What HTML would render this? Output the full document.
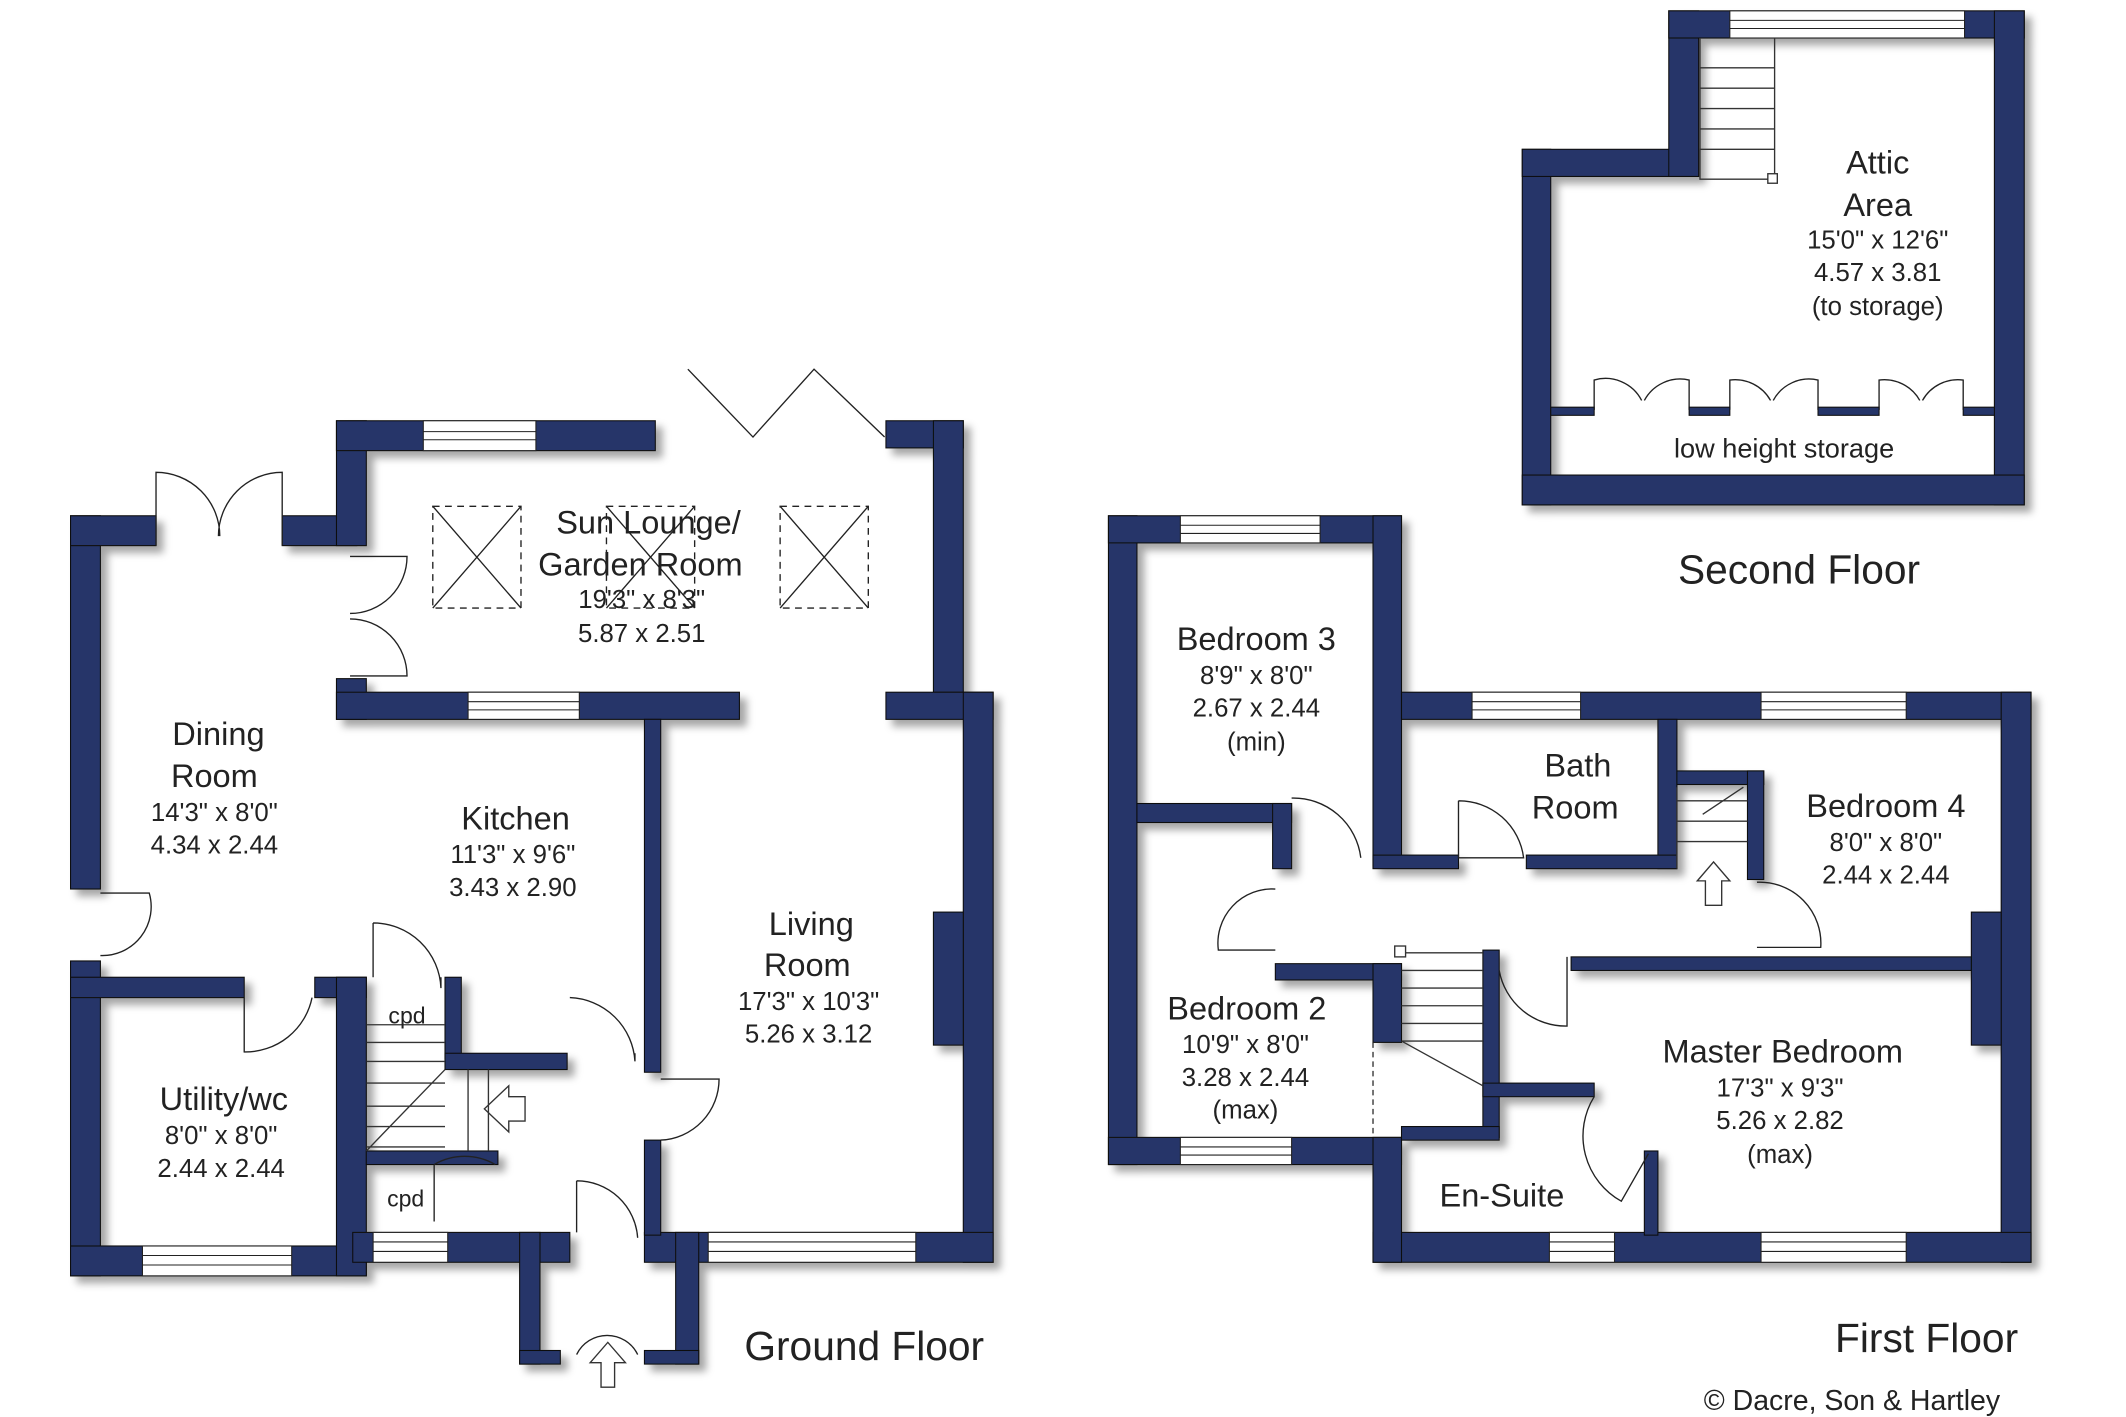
<!DOCTYPE html>
<html><head><meta charset="utf-8"><style>
html,body{margin:0;padding:0;background:#fff;}
svg{display:block;}
text{font-family:"Liberation Sans",sans-serif;fill:#222;}
.w{fill:#253569;stroke:#111;stroke-width:0.8;}
.win{fill:#fff;stroke:#222;stroke-width:0.8;}
.d{fill:none;stroke:#222;stroke-width:1;}
.rn{font-size:24px;text-anchor:middle;}
.dm{font-size:19px;text-anchor:middle;}
.ft{font-size:30px;text-anchor:middle;}
</style></head><body>
<svg width="2126" height="1417" viewBox="0 0 1567 1044" preserveAspectRatio="none">
<defs><filter id="sh" x="-5%" y="-5%" width="115%" height="115%"><feDropShadow dx="5" dy="5" stdDeviation="3" flood-color="#000" flood-opacity="0.35"/></filter></defs>
<g filter="url(#sh)">
<rect class="w" x="52" y="380" width="22" height="275"/>
<rect class="w" x="52" y="380" width="63" height="22"/>
<rect class="w" x="208" y="380" width="55" height="22"/>
<rect class="w" x="248" y="310" width="22" height="92"/>
<rect class="w" x="248" y="310" width="235" height="22"/>
<rect class="w" x="653" y="310" width="57" height="20"/>
<rect class="w" x="688" y="310" width="22" height="200"/>
<rect class="w" x="248" y="500" width="22" height="30"/>
<rect class="w" x="248" y="510" width="297" height="20"/>
<rect class="w" x="475" y="530" width="12" height="260"/>
<rect class="w" x="653" y="510" width="79" height="20"/>
<rect class="w" x="710" y="510" width="22" height="420"/>
<rect class="w" x="688" y="672" width="22" height="98"/>
<rect class="w" x="475" y="908" width="257" height="22"/>
<rect class="w" x="475" y="840" width="12" height="70"/>
<rect class="w" x="52" y="708" width="22" height="232"/>
<rect class="w" x="52" y="918" width="218" height="22"/>
<rect class="w" x="52" y="720" width="128" height="15"/>
<rect class="w" x="232" y="720" width="38" height="15"/>
<rect class="w" x="248" y="720" width="22" height="220"/>
<rect class="w" x="260" y="908" width="160" height="22"/>
<rect class="w" x="383" y="908" width="15" height="97"/>
<rect class="w" x="498" y="908" width="17" height="97"/>
<rect class="w" x="383" y="995" width="30" height="10"/>
<rect class="w" x="475" y="995" width="40" height="10"/>
<rect class="w" x="328" y="720" width="12" height="60"/>
<rect class="w" x="328" y="776" width="90" height="12"/>
<rect class="w" x="270" y="848" width="97" height="10"/>
<rect class="w" x="817" y="380" width="21" height="478"/>
<rect class="w" x="817" y="380" width="216" height="20"/>
<rect class="w" x="1012" y="380" width="21" height="258"/>
<rect class="w" x="1033" y="510" width="464" height="20"/>
<rect class="w" x="1475" y="510" width="22" height="420"/>
<rect class="w" x="1453" y="672" width="22" height="98"/>
<rect class="w" x="1012" y="908" width="485" height="22"/>
<rect class="w" x="817" y="838" width="216" height="20"/>
<rect class="w" x="1012" y="838" width="21" height="92"/>
<rect class="w" x="838" y="592" width="114" height="14"/>
<rect class="w" x="938" y="592" width="14" height="48"/>
<rect class="w" x="1222" y="530" width="14" height="110"/>
<rect class="w" x="1012" y="630" width="63" height="10"/>
<rect class="w" x="1125" y="630" width="111" height="10"/>
<rect class="w" x="1236" y="568" width="64" height="10"/>
<rect class="w" x="1288" y="568" width="12" height="80"/>
<rect class="w" x="1158" y="705" width="295" height="10"/>
<rect class="w" x="940" y="710" width="93" height="12"/>
<rect class="w" x="1012" y="710" width="21" height="58"/>
<rect class="w" x="1093" y="700" width="12" height="138"/>
<rect class="w" x="1033" y="830" width="72" height="10"/>
<rect class="w" x="1093" y="798" width="82" height="10"/>
<rect class="w" x="1212" y="848" width="10" height="62"/>
<rect class="w" x="1122" y="110" width="21" height="262"/>
<rect class="w" x="1122" y="110" width="130" height="20"/>
<rect class="w" x="1230" y="8" width="22" height="122"/>
<rect class="w" x="1230" y="8" width="262" height="20"/>
<rect class="w" x="1470" y="8" width="22" height="364"/>
<rect class="w" x="1122" y="350" width="370" height="22"/>
</g>
<g class="win">
<rect x="312" y="310" width="83" height="22"/><line x1="312" y1="318" x2="395" y2="318"/><line x1="312" y1="324" x2="395" y2="324"/>
<rect x="345" y="510" width="82" height="20"/><line x1="345" y1="517" x2="427" y2="517"/><line x1="345" y1="523" x2="427" y2="523"/>
<rect x="522" y="908" width="153" height="22"/><line x1="522" y1="915" x2="675" y2="915"/><line x1="522" y1="922" x2="675" y2="922"/>
<rect x="105" y="918" width="110" height="22"/><line x1="105" y1="925" x2="215" y2="925"/><line x1="105" y1="932" x2="215" y2="932"/>
<rect x="275" y="908" width="55" height="22"/><line x1="275" y1="915" x2="330" y2="915"/><line x1="275" y1="922" x2="330" y2="922"/>
<rect x="870" y="380" width="103" height="20"/><line x1="870" y1="387" x2="973" y2="387"/><line x1="870" y1="393" x2="973" y2="393"/>
<rect x="1085" y="510" width="80" height="20"/><line x1="1085" y1="517" x2="1165" y2="517"/><line x1="1085" y1="523" x2="1165" y2="523"/>
<rect x="1298" y="510" width="107" height="20"/><line x1="1298" y1="517" x2="1405" y2="517"/><line x1="1298" y1="523" x2="1405" y2="523"/>
<rect x="870" y="838" width="82" height="20"/><line x1="870" y1="845" x2="952" y2="845"/><line x1="870" y1="851" x2="952" y2="851"/>
<rect x="1142" y="908" width="48" height="22"/><line x1="1142" y1="915" x2="1190" y2="915"/><line x1="1142" y1="922" x2="1190" y2="922"/>
<rect x="1298" y="908" width="107" height="22"/><line x1="1298" y1="915" x2="1405" y2="915"/><line x1="1298" y1="922" x2="1405" y2="922"/>
<rect x="1275" y="8" width="173" height="20"/><line x1="1275" y1="15" x2="1448" y2="15"/><line x1="1275" y1="21" x2="1448" y2="21"/>
</g>
<g class="d">
<path d="M115 402 L115 348 A47 47 0 0 1 162 395 M208 402 L208 348 A47 47 0 0 0 161 395"/>
<path d="M258 410 L300 410 A42 42 0 0 1 258 452 M258 498 L300 498 A42 42 0 0 0 258 456"/>
<path d="M507 272 L555 322 L600 272 L652 322"/>
<path d="M74 658 L110 658 A36 36 0 0 1 74 704"/>
<path d="M180 735 L180 775 A50 50 0 0 0 230 735"/>
<path d="M275 680 A50 50 0 0 1 325 728 L325 720 M275 680 L275 720"/>
<path d="M420 735 A50 50 0 0 1 468 782 L468 776"/>
<path d="M487 795 L530 795 A45 45 0 0 1 487 840"/>
<path d="M320 858 A45 45 0 0 1 365 858 M320 858 L320 900"/>
<path d="M425 870 A45 45 0 0 1 470 912 M425 870 L425 908"/>
<path d="M425 998 A25 25 0 0 1 470 998"/>
<path d="M952 588 A50 50 0 0 1 1003 632"/>
<path d="M940 655 A40 40 0 0 0 898 700 L940 700"/>
<path d="M1075 590 A48 48 0 0 1 1123 632 L1075 632 L1075 590"/>
<path d="M1295 650 A45 45 0 0 1 1342 698 L1295 698"/>
<path d="M1105 715 A50 50 0 0 0 1155 756 L1155 705"/>
<path d="M1175 808 A55 55 0 0 0 1195 885 L1215 850"/>
<path d="M1175 302 L1175 280 A30 30 0 0 1 1210 295 M1245 302 L1245 280 A30 30 0 0 0 1212 295 M1275 302 L1275 280 A30 30 0 0 1 1305 295 M1340 302 L1340 280 A30 30 0 0 0 1307 295 M1385 302 L1385 280 A30 30 0 0 1 1415 295 M1447 302 L1447 280 A30 30 0 0 0 1417 295"/>
</g>
<g class="w"><rect x="1143" y="300" width="32" height="6"/><rect x="1245" y="300" width="30" height="6"/><rect x="1340" y="300" width="45" height="6"/><rect x="1447" y="300" width="23" height="6"/></g>
<g fill="none" stroke="#222" stroke-width="1">
<rect x="319" y="373" width="65" height="75" stroke-dasharray="5,4"/><path d="M319 373 L384 448 M384 373 L319 448"/>
<rect x="447" y="373" width="65" height="75" stroke-dasharray="5,4"/><path d="M447 373 L512 448 M512 373 L447 448"/>
<rect x="575" y="373" width="65" height="75" stroke-dasharray="5,4"/><path d="M575 373 L640 448 M640 373 L575 448"/>
</g>
<g fill="none" stroke="#333" stroke-width="1">
<path d="M270 755 H328 M270 768 H328 M270 782 H328 M270 798 H328 M270 815 H328 M270 830 H328 M270 845 H328 M328 788 L270 848 M345 788 V848 M360 788 V848"/>
<path d="M1253 28 V132 H1308 V28 M1253 50 H1308 M1253 65 H1308 M1253 80 H1308 M1253 95 H1308 M1253 110 H1308"/>
<path d="M1236 580 V640 M1236 590 H1288 M1236 605 H1288 M1236 620 H1288 M1255 600 L1285 580"/>
<path d="M1033 702 H1093 M1033 715 H1093 M1033 728 H1093 M1033 741 H1093 M1033 754 H1093 M1033 767 H1093 M1033 767 L1093 800"/>
<path d="M1012 768 V838" stroke-dasharray="4,3"/>
<path d="M375 808 h12 v18 h-12 v8 l-18 -17 l18 -17 z"/>
<path d="M443 1022 v-18 h-8 l13 -15 l13 15 h-8 v18 z"/>
<path d="M1257 667 v-18 h-6 l12 -14 l12 14 h-6 v18 z"/>
<rect x="1303" y="128" width="7" height="7" fill="#fff"/><rect x="1028" y="697" width="8" height="8" fill="#fff"/>
</g>
<text class="rn" x="478" y="393">Sun Lounge/</text><text class="rn" x="472" y="424">Garden Room</text>
<text class="dm" x="473" y="448">19'3"  x  8'3"</text><text class="dm" x="473" y="473">5.87  x  2.51</text>
<text class="rn" x="161" y="549">Dining</text><text class="rn" x="158" y="580">Room</text>
<text class="dm" x="158" y="605">14'3"  x  8'0"</text><text class="dm" x="158" y="629">4.34  x  2.44</text>
<text class="rn" x="380" y="611">Kitchen</text>
<text class="dm" x="378" y="636">11'3"  x  9'6"</text><text class="dm" x="378" y="660">3.43  x  2.90</text>
<text class="rn" x="598" y="689">Living</text><text class="rn" x="595" y="719">Room</text>
<text class="dm" x="596" y="744">17'3"  x  10'3"</text><text class="dm" x="596" y="768">5.26  x  3.12</text>
<text class="rn" x="165" y="818">Utility/wc</text>
<text class="dm" x="163" y="843">8'0"  x  8'0"</text><text class="dm" x="163" y="867">2.44  x  2.44</text>
<text class="dm" x="300" y="754" style="font-size:17px">cpd</text><text class="dm" x="299" y="889" style="font-size:17px">cpd</text>
<text class="ft" x="637" y="1002">Ground Floor</text>
<text class="rn" x="926" y="479">Bedroom 3</text>
<text class="dm" x="926" y="504">8'9"  x  8'0"</text><text class="dm" x="926" y="528">2.67  x  2.44</text><text class="dm" x="926" y="553">(min)</text>
<text class="rn" x="1163" y="572">Bath</text><text class="rn" x="1161" y="603">Room</text>
<text class="rn" x="1390" y="602">Bedroom 4</text>
<text class="dm" x="1390" y="627">8'0"  x  8'0"</text><text class="dm" x="1390" y="651">2.44  x  2.44</text>
<text class="rn" x="919" y="751">Bedroom 2</text>
<text class="dm" x="918" y="776">10'9"  x  8'0"</text><text class="dm" x="918" y="800">3.28  x  2.44</text><text class="dm" x="918" y="824">(max)</text>
<text class="rn" x="1314" y="783">Master Bedroom</text>
<text class="dm" x="1312" y="808">17'3"  x  9'3"</text><text class="dm" x="1312" y="832">5.26  x  2.82</text><text class="dm" x="1312" y="857">(max)</text>
<text class="rn" x="1107" y="889">En-Suite</text>
<text class="ft" x="1420" y="996">First Floor</text>
<text x="1365" y="1039" style="font-size:21px;text-anchor:middle">© Dacre, Son &amp; Hartley</text>
<text class="rn" x="1384" y="128">Attic</text><text class="rn" x="1384" y="159">Area</text>
<text class="dm" x="1384" y="183">15'0"  x  12'6"</text><text class="dm" x="1384" y="207">4.57  x  3.81</text><text class="dm" x="1384" y="232">(to storage)</text>
<text class="dm" x="1315" y="337" style="font-size:20px">low height storage</text>
<text class="ft" x="1326" y="430">Second Floor</text>
</svg>
</body></html>
